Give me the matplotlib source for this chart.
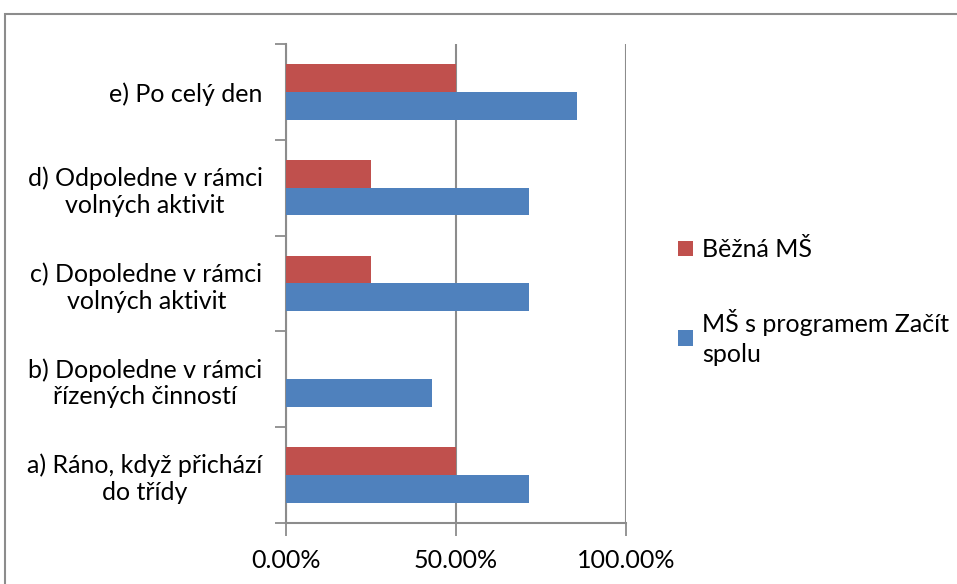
import numpy as np
import matplotlib.pyplot as plt
from matplotlib.patches import Rectangle
from matplotlib.ticker import FuncFormatter

plt.rcParams['font.family'] = ['Lato', 'DejaVu Sans']

categories = ['a) Ráno, když přichází\ndo třídy',
              'b) Dopoledne v rámci\nřízených činností',
              'c) Dopoledne v rámci\nvolných aktivit',
              'd) Odpoledne v rámci\nvolných aktivit',
              'e) Po celý den']
bezna = [50.0, 0.0, 25.0, 25.0, 50.0]
zacit = [71.43, 42.86, 71.43, 71.43, 85.71]
xticks = [0, 50, 100]

red = '#C0504D'
blue = '#4F81BD'
gray = '#8C8C8C'
fs = 18

fig = plt.figure(figsize=(9.57, 5.84), dpi=100)
ax = fig.add_axes([0.2989, 0.1045, 0.3553, 0.8202])

y = np.arange(len(categories))
h = 0.29
ax.barh(y + h / 2, bezna, height=h, color=red, label='Běžná MŠ', zorder=3)
ax.barh(y - h / 2, zacit, height=h, color=blue, label='MŠ s programem Začít\nspolu', zorder=3)

ax.set_xlim(0, 100)
ax.set_ylim(-0.5, len(categories) - 0.5)
ax.set_xticks(xticks)
ax.xaxis.set_major_formatter(FuncFormatter(lambda v, p: f'{v:.2f}%'))
ax.tick_params(axis='x', length=9, color=gray, width=1.3, labelsize=fs, pad=10)
ax.grid(axis='x', color=gray, linewidth=1.5, zorder=0)

ax.set_yticks(y)
ax.set_yticklabels(categories, multialignment='center', linespacing=1.2)
ax.tick_params(axis='y', length=0, labelsize=fs, pad=17)
ax.set_yticks(np.arange(-0.5, len(categories)), minor=True)
ax.tick_params(axis='y', which='minor', length=8, color=gray, width=1.3)

for s in ['top', 'right']:
    ax.spines[s].set_visible(False)
for s in ['left', 'bottom']:
    ax.spines[s].set_color(gray)
    ax.spines[s].set_linewidth(1.5)

handles, labels = ax.get_legend_handles_labels()
leg = fig.legend(handles, labels, loc='center left', bbox_to_anchor=(0.685, 0.483),
                 frameon=False, fontsize=fs, handlelength=0.6, handleheight=0.6,
                 handletextpad=0.35, labelspacing=1.9)
for t in leg.get_texts():
    t.set_linespacing(1.35)

fig.add_artist(Rectangle((5 / 957, -0.1), 1.2, 1 - 14 / 584 + 0.1,
                         transform=fig.transFigure, fill=False,
                         edgecolor=gray, linewidth=1.5))

fig.savefig('out.png', dpi=100)
